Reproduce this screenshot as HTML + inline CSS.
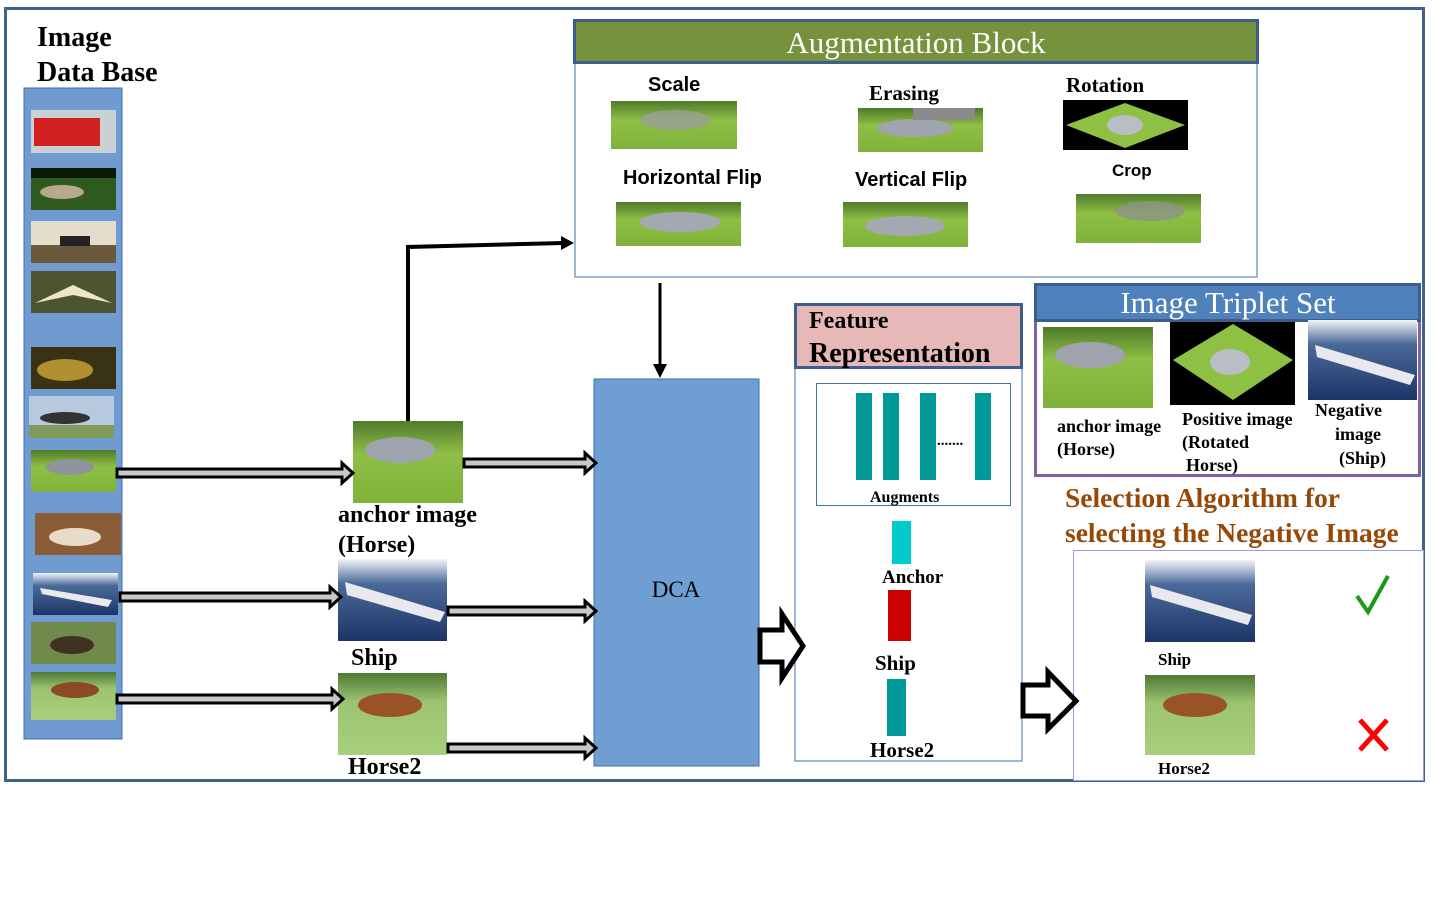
<!DOCTYPE html>
<html><head><meta charset="utf-8"><style>
html,body{margin:0;padding:0;background:#fff;}
svg{display:block;}
text{font-family:"Liberation Serif",serif;font-weight:bold;fill:#000;}
.s{font-family:"Liberation Sans",sans-serif;}
</style></head><body>
<svg width="1435" height="899" viewBox="0 0 1435 899" xmlns="http://www.w3.org/2000/svg">
<defs>
<linearGradient id="grass" x1="0" y1="0" x2="0" y2="1"><stop offset="0" stop-color="#4f7a2a"/><stop offset="0.4" stop-color="#8fbf45"/><stop offset="1" stop-color="#7fb23a"/></linearGradient>
<linearGradient id="sea" x1="0" y1="0" x2="0" y2="1"><stop offset="0" stop-color="#f2f4f8"/><stop offset="0.3" stop-color="#4a6a9a"/><stop offset="1" stop-color="#1d3566"/></linearGradient>
<linearGradient id="field" x1="0" y1="0" x2="0" y2="1"><stop offset="0" stop-color="#4e7a35"/><stop offset="0.35" stop-color="#9cc470"/><stop offset="1" stop-color="#a8cf7b"/></linearGradient>
</defs>

<rect x="5.5" y="8.5" width="1418" height="772" fill="none" stroke="#41628f" stroke-width="3"/>

<text x="37" y="46" font-size="28">Image</text>
<text x="37" y="81" font-size="28">Data Base</text>

<rect x="24" y="88" width="98" height="651" fill="#6f9bd0" stroke="#3f6fae" stroke-width="1"/>
<rect x="31" y="110" width="85" height="43" fill="#c9d0d6"/><rect x="34" y="118" width="66" height="28" fill="#d02020"/>
<rect x="31" y="168" width="85" height="42" fill="#2f5a1f"/><rect x="31" y="168" width="85" height="10" fill="#0c1a08"/><ellipse cx="62" cy="192" rx="22" ry="7" fill="#b9a98c"/>
<rect x="31" y="221" width="85" height="42" fill="#e5dccb"/><rect x="31" y="245" width="85" height="18" fill="#6a5a3d"/><rect x="60" y="236" width="30" height="10" fill="#222"/>
<rect x="31" y="271" width="85" height="42" fill="#4f5430"/><polygon points="35,303 73,285 112,303 73,295" fill="#efe6c8"/>
<rect x="31" y="347" width="85" height="42" fill="#3a3215"/><ellipse cx="65" cy="370" rx="28" ry="11" fill="#b2902f"/>
<rect x="29" y="396" width="85" height="42" fill="#b7c9de"/><rect x="29" y="425" width="85" height="13" fill="#7f9a5a"/><ellipse cx="65" cy="418" rx="25" ry="6" fill="#333"/>
<rect x="31" y="450" width="85" height="42" fill="url(#grass)"/><ellipse cx="70" cy="467" rx="24" ry="8" fill="#8e939c"/>
<rect x="35" y="513" width="86" height="42" fill="#8a5b37"/><ellipse cx="75" cy="537" rx="26" ry="9" fill="#e8dcc8"/>
<rect x="33" y="573" width="85" height="42" fill="url(#sea)"/><polygon points="40,588 112,600 108,607 42,594" fill="#e9e9ee"/>
<rect x="31" y="622" width="85" height="42" fill="#6f8a4a"/><ellipse cx="72" cy="645" rx="22" ry="9" fill="#3f3220"/>
<rect x="31" y="672" width="85" height="48" fill="url(#field)"/><ellipse cx="75" cy="690" rx="24" ry="8" fill="#8b4a22"/>

<!-- augmentation block -->
<rect x="575" y="63" width="682" height="214" fill="#fff" stroke="#3f6fae" stroke-width="1"/>
<rect x="574.5" y="20.5" width="683" height="42" fill="#76923c" stroke="#3e5e8a" stroke-width="3"/>
<text x="916" y="53" font-size="31" style="font-weight:normal;fill:#fff" text-anchor="middle">Augmentation Block</text>

<text class="s" x="648" y="91" font-size="20">Scale</text>
<rect x="611" y="101" width="126" height="48" fill="url(#grass)"/><ellipse cx="675" cy="120" rx="35" ry="10" fill="#9a9f98" opacity="0.8"/>
<text x="869" y="100" font-size="21">Erasing</text>
<rect x="858" y="108" width="125" height="44" fill="url(#grass)"/><ellipse cx="915" cy="128" rx="38" ry="9" fill="#a0a5ad"/><rect x="913" y="108" width="62" height="12" fill="#8a8a8a"/>
<text x="1066" y="92" font-size="21">Rotation</text>
<rect x="1063" y="100" width="125" height="50" fill="#000"/><polygon points="1125,103 1185,125 1125,148 1066,125" fill="#8ec043"/><ellipse cx="1125" cy="125" rx="18" ry="10" fill="#b9bdc4"/>
<text class="s" x="623" y="184" font-size="20">Horizontal Flip</text>
<rect x="616" y="202" width="125" height="44" fill="url(#grass)"/><ellipse cx="680" cy="222" rx="40" ry="10" fill="#a4a8b0"/>
<text class="s" x="855" y="186" font-size="20">Vertical Flip</text>
<rect x="843" y="202" width="125" height="45" fill="url(#grass)"/><ellipse cx="905" cy="226" rx="40" ry="10" fill="#a4a8b0"/>
<text class="s" x="1112" y="176" font-size="17">Crop</text>
<rect x="1076" y="194" width="125" height="49" fill="url(#grass)"/><ellipse cx="1150" cy="211" rx="35" ry="10" fill="#8d9388" opacity="0.8"/>

<polyline points="408,421 408,247 563,243" fill="none" stroke="#000" stroke-width="4"/>
<polygon points="561,236 574,243 561,250" fill="#000"/>
<line x1="660" y1="283" x2="660" y2="366" stroke="#000" stroke-width="3"/>
<polygon points="653,364 660,378 667,364" fill="#000"/>

<!-- DCA -->
<rect x="594" y="379" width="165" height="387" fill="#6f9ed3" stroke="#3f6fae" stroke-width="1"/>
<text x="676" y="597" font-size="23" style="font-weight:normal" text-anchor="middle">DCA</text>

<rect x="353" y="421" width="110" height="82" fill="url(#grass)"/><ellipse cx="400" cy="450" rx="35" ry="13" fill="#9ea3ad"/>
<text x="338" y="522" font-size="24">anchor image</text>
<text x="338" y="552" font-size="24">(Horse)</text>
<rect x="338" y="559" width="109" height="82" fill="url(#sea)"/><polygon points="345,582 445,612 440,622 347,595" fill="#e8e8ee"/>
<text x="351" y="665" font-size="24">Ship</text>
<rect x="338" y="673" width="109" height="82" fill="url(#field)"/><ellipse cx="390" cy="705" rx="32" ry="12" fill="#9a5326"/>
<text x="348" y="774" font-size="24">Horse2</text>

<g fill="#c8c8c8" stroke="#000" stroke-width="3" stroke-linejoin="miter">
<polygon points="117,469 342,469 342,463 353,473 342,483 342,477 117,477"/>
<polygon points="464,459 585,459 585,453 596,463 585,473 585,467 464,467"/>
<polygon points="120,593 330,593 330,587 341,597 330,607 330,601 120,601"/>
<polygon points="448,607 585,607 585,601 596,611 585,621 585,615 448,615"/>
<polygon points="117,695 332,695 332,689 343,699 332,709 332,703 117,703"/>
<polygon points="448,744 585,744 585,738 596,748 585,758 585,752 448,752"/>
</g>

<!-- feature representation -->
<rect x="795" y="368" width="227" height="393" fill="#fff" stroke="#3f6fae" stroke-width="1"/>
<rect x="795.5" y="304.5" width="226" height="63" fill="#e6b8b7" stroke="#3e5e8a" stroke-width="3"/>
<text x="809" y="328" font-size="24">Feature</text>
<text x="809" y="362" font-size="28">Representation</text>
<rect x="816.5" y="383.5" width="194" height="122" fill="#fff" stroke="#3f6fae" stroke-width="1"/>
<g fill="#009999">
<rect x="856" y="393" width="16" height="87"/><rect x="883" y="393" width="16" height="87"/><rect x="920" y="393" width="16" height="87"/><rect x="975" y="393" width="16" height="87"/>
</g>
<text x="937" y="445" font-size="15">.......</text>
<text x="870" y="502" font-size="16">Augments</text>
<rect x="892" y="521" width="19" height="43" fill="#00cccc"/>
<text x="882" y="583" font-size="19">Anchor</text>
<rect x="888" y="590" width="23" height="51" fill="#cc0000"/>
<text x="875" y="670" font-size="21">Ship</text>
<rect x="887" y="679" width="19" height="57" fill="#009999"/>
<text x="870" y="757" font-size="21">Horse2</text>

<!-- triplet set -->
<rect x="1035.5" y="320.5" width="384" height="155" fill="#fff" stroke="#8064a2" stroke-width="3"/>
<rect x="1035.5" y="284.5" width="384" height="36" fill="#4f81bd" stroke="#3e5e8a" stroke-width="3"/>
<text x="1228" y="313" font-size="31" style="font-weight:normal;fill:#fff" text-anchor="middle">Image Triplet Set</text>
<rect x="1043" y="327" width="110" height="81" fill="url(#grass)"/><ellipse cx="1090" cy="355" rx="35" ry="13" fill="#9ea3ad"/>
<rect x="1170" y="322" width="125" height="83" fill="#000"/><polygon points="1233,324 1293,360 1233,400 1173,360" fill="#8ec043"/><ellipse cx="1230" cy="362" rx="20" ry="13" fill="#b9bdc4"/>
<rect x="1308" y="320" width="109" height="80" fill="url(#sea)"/><polygon points="1315,345 1415,375 1410,385 1317,357" fill="#e8e8ee"/>
<text x="1057" y="432" font-size="18">anchor image</text>
<text x="1057" y="455" font-size="18">(Horse)</text>
<text x="1182" y="425" font-size="18">Positive image</text>
<text x="1182" y="448" font-size="18">(Rotated</text>
<text x="1186" y="471" font-size="18">Horse)</text>
<text x="1315" y="416" font-size="18">Negative</text>
<text x="1335" y="440" font-size="18">image</text>
<text x="1339" y="464" font-size="18">(Ship)</text>

<text x="1065" y="507" font-size="27.5" style="fill:#984806">Selection Algorithm for</text>
<text x="1065" y="542" font-size="27.5" style="fill:#984806">selecting the Negative Image</text>

<rect x="1073.5" y="550.5" width="350" height="230" fill="#fff" stroke="#9999ee" stroke-width="1"/>
<rect x="1145" y="560" width="110" height="82" fill="url(#sea)"/><polygon points="1150,585 1252,615 1248,625 1152,597" fill="#e8e8ee"/>
<text x="1158" y="665" font-size="17">Ship</text>
<rect x="1145" y="675" width="110" height="80" fill="url(#field)"/><ellipse cx="1195" cy="705" rx="32" ry="12" fill="#9a5326"/>
<text x="1158" y="774" font-size="17">Horse2</text>
<polyline points="1357,596 1368,612 1388,576" fill="none" stroke="#1a9a1a" stroke-width="4"/>
<g stroke="#ff0000" stroke-width="5"><line x1="1360" y1="720" x2="1387" y2="750"/><line x1="1387" y1="720" x2="1360" y2="750"/></g>

<!-- big hollow arrows (on top) -->
<g fill="#fff" stroke="#000" stroke-width="5" stroke-linejoin="miter">
<polygon points="760,630 782,630 782,614 803,646 782,678 782,662 760,662"/>
<polygon points="1023,685 1048,685 1048,672 1076,701 1048,729 1048,716 1023,716"/>
</g>
</svg>
</body></html>
